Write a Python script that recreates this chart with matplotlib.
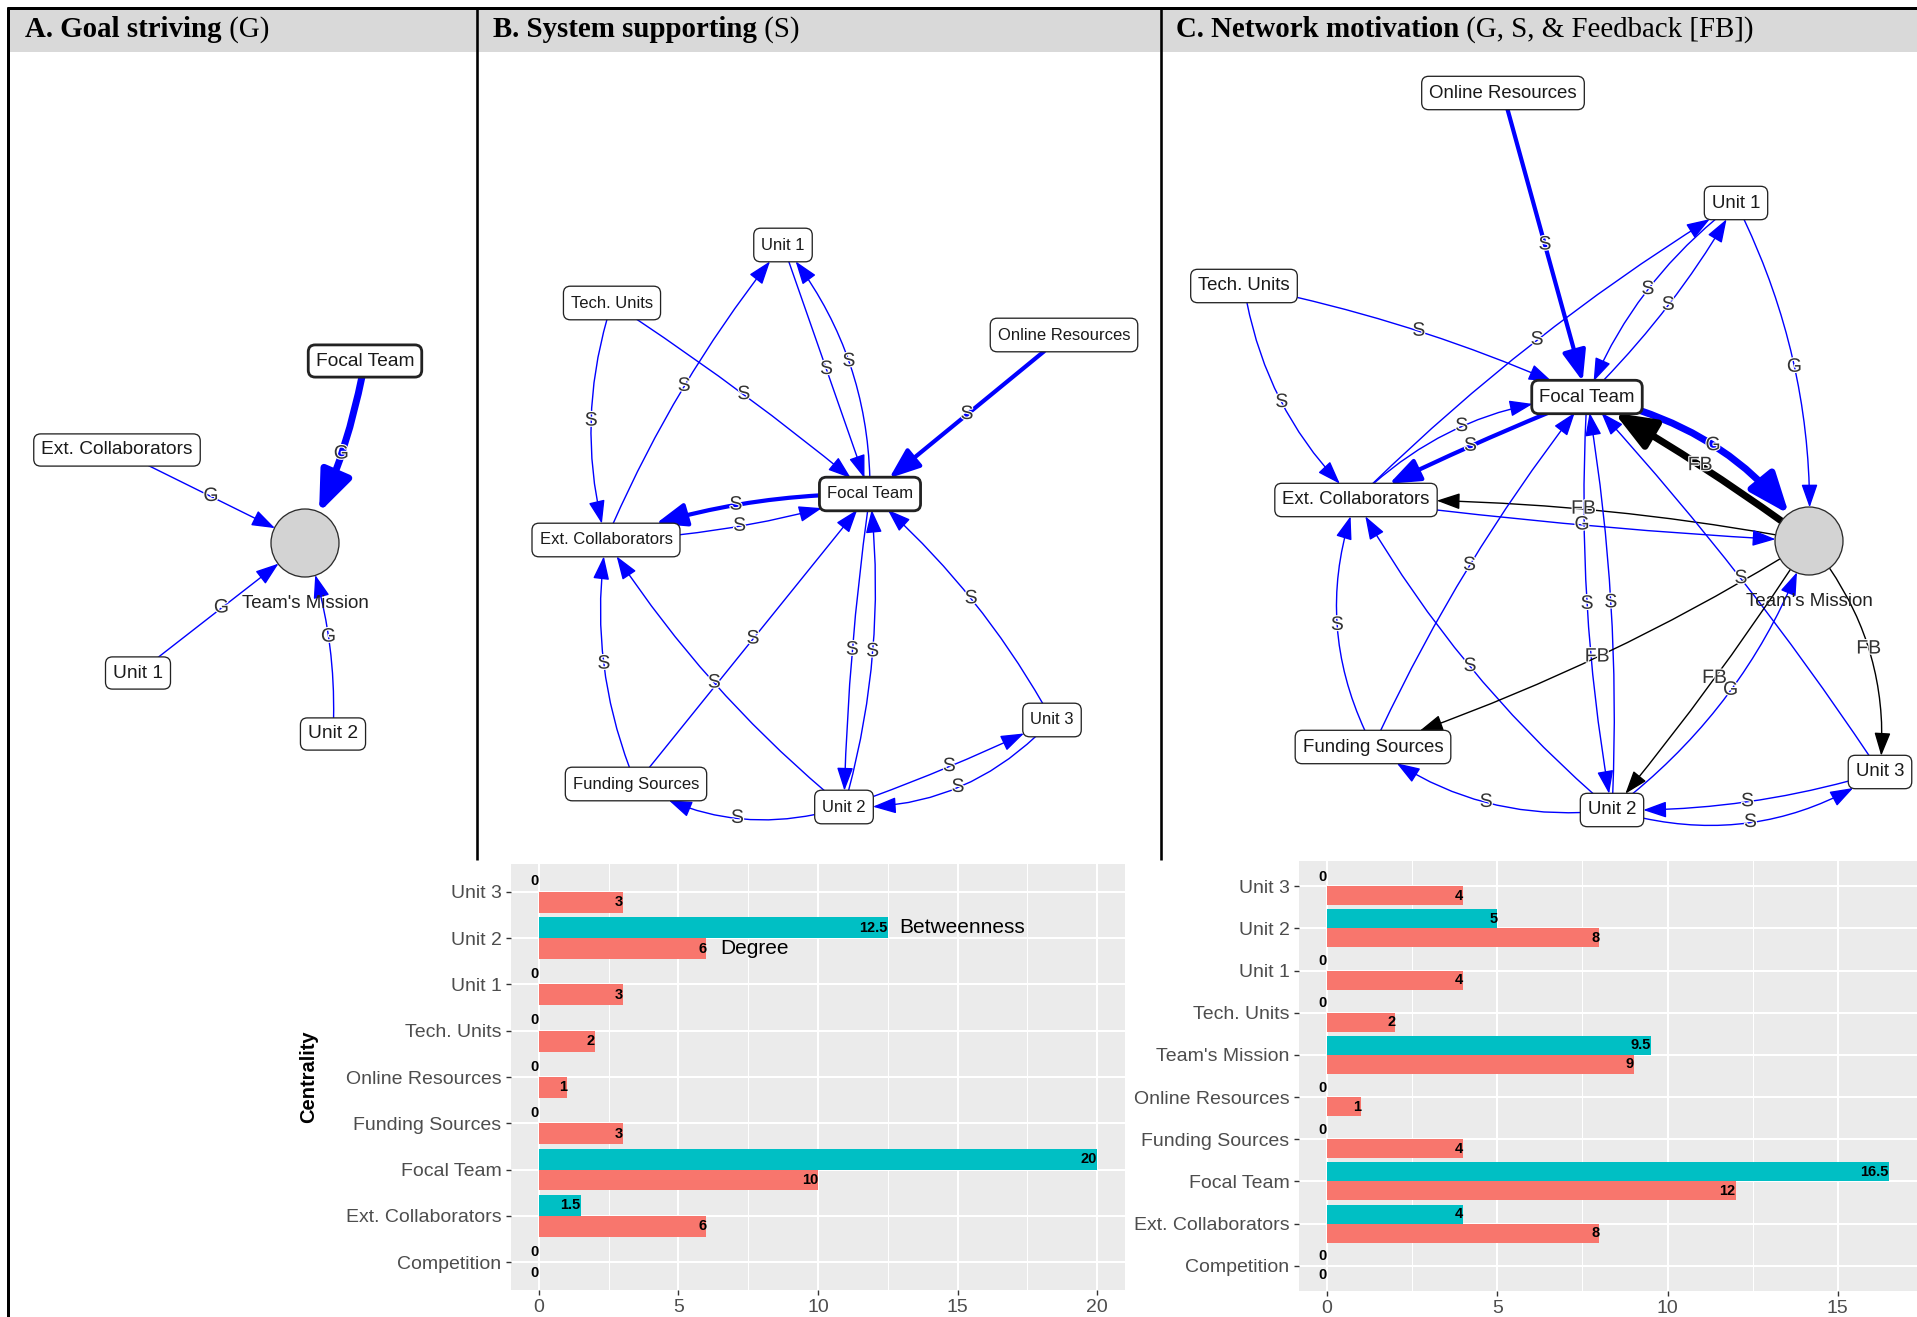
import numpy as np
import matplotlib
matplotlib.use("Agg")
import matplotlib.pyplot as plt
from matplotlib import font_manager as fm
from matplotlib import patheffects as pe
from matplotlib.patches import ArrowStyle, Circle, FancyArrowPatch, FancyBboxPatch, Rectangle

W, H, DPI = 1917, 1317, 100
PT = 72.0 / DPI  # points per pixel


def font_available(name):
    try:
        fm.findfont(fm.FontProperties(family=name), fallback_to_default=False)
        return True
    except ValueError:
        return False


SANS = "Liberation Sans"
SERIF = "Liberation Serif"
HAS_NARROW = font_available("Liberation Sans Narrow")
NARROW = "Liberation Sans Narrow" if HAS_NARROW else SANS

MISSION = "Team's Mission"

# ---------------- panel titles ----------------
TITLES = [("A. Goal striving", " (G)"),
          ("B. System supporting", " (S)"),
          ("C. Network motivation", " (G, S, & Feedback [FB])")]
TITLE_X = [25, 493, 1176]
SEPARATORS = [477, 1161]

# ---------------- networks ----------------
# node layout in page pixels
nodes_a = {"Focal Team": (365, 361), "Ext. Collaborators": (117, 450),
           MISSION: (305, 543), "Unit 1": (138, 673), "Unit 2": (333, 734)}
# (source, target, label, weight, curvature)
edges_a = [
    ("Focal Team", MISSION, "G", 3, -0.07),
    ("Ext. Collaborators", MISSION, "G", 1, 0.0),
    ("Unit 1", MISSION, "G", 1, 0.0),
    ("Unit 2", MISSION, "G", 1, 0.10),
]

nodes_b = {"Unit 1": (783, 245), "Tech. Units": (612, 303),
           "Online Resources": (1064, 335), "Focal Team": (870, 494),
           "Ext. Collaborators": (606, 540), "Funding Sources": (636, 784),
           "Unit 2": (844, 807), "Unit 3": (1052, 720)}
edges_b = [
    ("Unit 1", "Focal Team", "S", 1, 0.0),
    ("Focal Team", "Unit 1", "S", 1, 0.18),
    ("Tech. Units", "Focal Team", "S", 1, -0.03),
    ("Tech. Units", "Ext. Collaborators", "S", 1, 0.15),
    ("Ext. Collaborators", "Unit 1", "S", 1, -0.07),
    ("Online Resources", "Focal Team", "S", 2, 0.0),
    ("Focal Team", "Ext. Collaborators", "S", 2, 0.09),
    ("Ext. Collaborators", "Focal Team", "S", 1, 0.07),
    ("Funding Sources", "Ext. Collaborators", "S", 1, -0.14),
    ("Funding Sources", "Focal Team", "S", 1, 0.0),
    ("Unit 2", "Ext. Collaborators", "S", 1, -0.08),
    ("Focal Team", "Unit 2", "S", 1, 0.03),
    ("Unit 2", "Focal Team", "S", 1, 0.10),
    ("Unit 3", "Focal Team", "S", 1, 0.09),
    ("Unit 2", "Unit 3", "S", 1, 0.03),
    ("Unit 3", "Unit 2", "S", 1, -0.23),
    ("Unit 2", "Funding Sources", "S", 1, -0.22),
]

nodes_c = {"Online Resources": (1503, 93), "Unit 1": (1736, 203),
           "Tech. Units": (1244, 286), "Focal Team": (1587, 397),
           "Ext. Collaborators": (1356, 500), MISSION: (1809, 541),
           "Funding Sources": (1373, 747), "Unit 2": (1612, 810),
           "Unit 3": (1880, 772)}
edges_c = [
    ("Online Resources", "Focal Team", "S", 2, 0.0),
    ("Tech. Units", "Focal Team", "S", 1, -0.06),
    ("Tech. Units", "Ext. Collaborators", "S", 1, 0.17),
    ("Ext. Collaborators", "Unit 1", "S", 1, -0.06),
    ("Unit 1", "Focal Team", "S", 1, 0.14),
    ("Focal Team", "Unit 1", "S", 1, 0.07),
    ("Unit 1", MISSION, "G", 1, -0.13),
    ("Ext. Collaborators", "Focal Team", "S", 1, -0.19),
    ("Focal Team", "Ext. Collaborators", "S", 2, 0.02),
    ("Focal Team", MISSION, "G", 3, -0.21),
    (MISSION, "Focal Team", "FB", 3, 0.03),
    (MISSION, "Ext. Collaborators", "FB", 1, 0.05),
    ("Ext. Collaborators", MISSION, "G", 1, 0.02),
    ("Funding Sources", "Ext. Collaborators", "S", 1, -0.22),
    ("Funding Sources", "Focal Team", "S", 1, -0.06),
    ("Unit 2", "Ext. Collaborators", "S", 1, -0.09),
    ("Focal Team", "Unit 2", "S", 1, 0.06),
    ("Unit 2", "Focal Team", "S", 1, 0.055),
    ("Unit 3", "Focal Team", "S", 1, 0.04),
    (MISSION, "Funding Sources", "FB", 1, -0.06),
    (MISSION, "Unit 2", "FB", 1, -0.03),
    ("Unit 2", MISSION, "G", 1, 0.15),
    (MISSION, "Unit 3", "FB", 1, -0.21),
    ("Unit 2", "Funding Sources", "S", 1, -0.20),
    ("Unit 3", "Unit 2", "S", 1, -0.08),
    ("Unit 2", "Unit 3", "S", 1, 0.235),
]

# ---------------- centrality ----------------
cats_b = ["Competition", "Ext. Collaborators", "Focal Team", "Funding Sources",
          "Online Resources", "Tech. Units", "Unit 1", "Unit 2", "Unit 3"]
degree_b = [0, 6, 10, 3, 1, 2, 3, 6, 3]
betweenness_b = [0, 1.5, 20, 0, 0, 0, 0, 12.5, 0]

cats_c = ["Competition", "Ext. Collaborators", "Focal Team", "Funding Sources",
          "Online Resources", MISSION, "Tech. Units", "Unit 1", "Unit 2", "Unit 3"]
degree_c = [0, 8, 12, 4, 1, 9, 2, 4, 8, 4]
betweenness_c = [0, 4, 16.5, 0, 0, 9.5, 0, 0, 5, 0]

# ---------------- styles ----------------
BLUE = "#0000FF"
DEG_COLOR = "#F8766D"
BET_COLOR = "#00BFC4"
EDGE_WIDTH = {1: 1.4, 2: 4.2, 3: 7.0}          # px
HEAD = {1: (20, 7), 2: (26, 10), 3: (34, 13.5)}  # px (length, half width)

fig = plt.figure(figsize=(W / DPI, H / DPI), dpi=DPI)
ax = fig.add_axes([0, 0, 1, 1])
ax.set_xlim(0, W)
ax.set_ylim(H, 0)
ax.axis("off")

# frame and header band
ax.add_patch(Rectangle((8, 9), W - 8, 42.5, facecolor="#D9D9D9", edgecolor="none", zorder=1))
ax.plot([6.5, W], [8, 8], color="black", lw=3 * PT, solid_capstyle="butt", zorder=2)
ax.plot([8, 8], [6.5, H], color="black", lw=3 * PT, solid_capstyle="butt", zorder=2)
for xs in SEPARATORS:
    ax.plot([xs, xs], [8, 860], color="black", lw=2.6 * PT, solid_capstyle="butt", zorder=2)

title_parts = []
for (bold, rest), x0 in zip(TITLES, TITLE_X):
    t = ax.text(x0, 37, bold, family=SERIF, fontsize=20.8, fontweight="bold",
                va="baseline", ha="left", color="black", zorder=3)
    title_parts.append((t, rest))


def place_nodes(nodes, fsize, family):
    info = {}
    for name, (x, y) in nodes.items():
        if name == MISSION:
            c = Circle((x, y), 34, facecolor="#D3D3D3", edgecolor="#2B2B2B",
                       lw=1.3 * PT, zorder=4)
            ax.add_patch(c)
            ax.text(x, y + 60, name, ha="center", va="center", fontsize=13.5,
                    family=SANS, color="#222222", zorder=8)
            info[name] = c
        else:
            info[name] = ax.text(x, y, name, ha="center", va="center", fontsize=fsize,
                                 family=family, color="#1A1A1A", zorder=6)
    return info


net_a = place_nodes(nodes_a, 13.8, SANS)
net_b = place_nodes(nodes_b, 14.5 if HAS_NARROW else 12.0, NARROW)
net_c = place_nodes(nodes_c, 13.4, SANS)

fig.canvas.draw()
renderer = fig.canvas.get_renderer()
inv = ax.transData.inverted()

# title suffixes in regular weight
for t, rest in title_parts:
    bb = t.get_window_extent(renderer)
    xr = inv.transform((bb.x1, bb.y0))[0]
    ax.text(xr, 37, rest, family=SERIF, fontsize=20.8, va="baseline", ha="left",
            color="black", zorder=3)


def boxes_from_text(info, padx=7.5, pady=7.8):
    patches = {}
    for name, obj in info.items():
        if isinstance(obj, Circle):
            patches[name] = obj
            continue
        bb = obj.get_window_extent(renderer)
        (x0, y0), (x1, y1) = inv.transform([[bb.x0, bb.y0], [bb.x1, bb.y1]])
        left, right = min(x0, x1), max(x0, x1)
        top, bottom = min(y0, y1), max(y0, y1)
        bold = name == "Focal Team"
        box = FancyBboxPatch((left - padx, top - pady), right - left + 2 * padx,
                             bottom - top + 2 * pady,
                             boxstyle="round,pad=0,rounding_size=7",
                             facecolor="white", edgecolor="#222222",
                             lw=(2.8 if bold else 1.3) * PT, zorder=5)
        ax.add_patch(box)
        patches[name] = box
    return patches


def draw_edges(edges, nodes, patches):
    for src, dst, lab, w, rad in edges:
        (x1, y1), (x2, y2) = nodes[src], nodes[dst]
        color = "black" if lab == "FB" else BLUE
        hl, hw = HEAD[w]
        arrow = FancyArrowPatch(
            (x1, y1), (x2, y2), patchA=patches[src], patchB=patches[dst],
            connectionstyle=f"arc3,rad={rad}",
            arrowstyle=ArrowStyle("-|>", head_length=hl * PT, head_width=hw * PT),
            mutation_scale=1, lw=EDGE_WIDTH[w] * PT, color=color,
            shrinkA=0, shrinkB=0, zorder=3)
        ax.add_patch(arrow)
        mx, my = (x1 + x2) / 2, (y1 + y2) / 2
        lx = mx + 0.5 * rad * (-(y2 - y1))
        ly = my + 0.5 * rad * (x2 - x1)
        ax.text(lx, ly, lab, ha="center", va="center", fontsize=14, family=SANS,
                color="#333333", zorder=7,
                path_effects=[pe.withStroke(linewidth=1.6, foreground="white")])


pads = [(7.5, 7.6), (7.5, 9.3), (7.5, 8.2)]
for (info, nodes, edges), (px, py) in zip(((net_a, nodes_a, edges_a), (net_b, nodes_b, edges_b),
                                           (net_c, nodes_c, edges_c)), pads):
    patches = boxes_from_text(info, px, py)
    draw_edges(edges, nodes, patches)


# ---------------- centrality bars ----------------
def bar_panel(px_left, px_right, px_top, px_bottom, cats, degree, betw,
              xmax, xticks, minor, ylabel=None):
    axb = fig.add_axes([px_left / W, 1 - px_bottom / H,
                        (px_right - px_left) / W, (px_bottom - px_top) / H])
    y = np.arange(len(cats))
    axb.set_facecolor("#EBEBEB")
    axb.barh(y - 0.225, degree, height=0.45, color=DEG_COLOR, zorder=2)
    axb.barh(y + 0.225, betw, height=0.45, color=BET_COLOR, zorder=2)
    lab_font = dict(family=NARROW, fontsize=11.5 if HAS_NARROW else 10.5,
                    fontweight="bold", color="black", ha="right", va="center", zorder=3)
    for yi, d, b in zip(y, degree, betw):
        axb.text(d, yi - 0.225, f"{d:g}", **lab_font)
        axb.text(b, yi + 0.225, f"{b:g}", **lab_font)
    pad = 0.05 * xmax
    axb.set_xlim(-pad, xmax + pad)
    axb.set_ylim(-0.6, len(cats) - 0.4)
    axb.set_yticks(y, cats)
    axb.set_xticks(xticks, [f"{v:g}" for v in xticks])
    axb.set_xticks(minor, minor=True)
    axb.set_axisbelow(True)
    axb.grid(which="major", color="white", lw=1.5)
    axb.grid(which="minor", axis="x", color="white", lw=0.75)
    for s in axb.spines.values():
        s.set_visible(False)
    axb.tick_params(which="major", length=3.8 * PT * 1.4, width=1.0, color="#333333",
                    labelcolor="#4D4D4D", labelsize=14, pad=3)
    axb.tick_params(which="minor", length=0)
    for lbl in axb.get_xticklabels() + axb.get_yticklabels():
        lbl.set_family(SANS)
    if ylabel:
        axb.set_ylabel(ylabel, family=SANS, fontsize=14.5, fontweight="bold", color="black")
        axb.yaxis.set_label_coords((318 - px_left) / (px_right - px_left), 0.5)
    return axb


ax_b = bar_panel(511, 1125, 864, 1290, cats_b, degree_b, betweenness_b,
                 20, [0, 5, 10, 15, 20], [2.5, 7.5, 12.5, 17.5], ylabel="Centrality")
u2 = cats_b.index("Unit 2")
ax_b.text(betweenness_b[u2] + 0.4, u2 + 0.225, "Betweenness", ha="left", va="center",
          fontsize=15, family=SANS, color="black")
ax_b.text(degree_b[u2] + 0.5, u2 - 0.225, "Degree", ha="left", va="center",
          fontsize=15, family=SANS, color="black")

bar_panel(1299, 1917, 861, 1291, cats_c, degree_c, betweenness_c,
          16.5, [0, 5, 10, 15], [2.5, 7.5, 12.5])

fig.savefig("out.png", dpi=DPI, facecolor="white")
